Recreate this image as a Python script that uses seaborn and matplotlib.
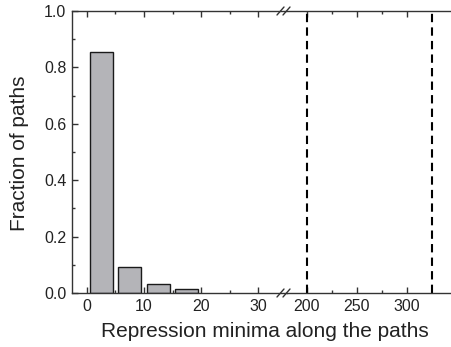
import matplotlib
matplotlib.use("Agg")
import matplotlib.pyplot as plt
import seaborn as sns
import pandas as pd

# data
bin_centers = [2.5, 7.5, 12.5, 17.5]
fractions = [0.854, 0.092, 0.032, 0.014]
dashed_positions = [200, 325]
left_ticks = [0, 10, 20, 30]
right_ticks = [200, 250, 300]
y_ticks = [0.0, 0.2, 0.4, 0.6, 0.8, 1.0]

sns.set_style("ticks")
plt.rcParams['font.family'] = ['Liberation Sans', 'DejaVu Sans']
plt.rcParams['xtick.direction'] = 'in'
plt.rcParams['ytick.direction'] = 'in'

fig = plt.figure(figsize=(4.51, 3.47), dpi=100)
W, H = 451, 347
x0, xb, x1 = 72, 287, 451
yb, yt = 293, 11
axL = fig.add_axes([x0 / W, 1 - yb / H, (xb - x0) / W, (yb - yt) / H])
axR = fig.add_axes([xb / W, 1 - yb / H, (x1 - xb) / W, (yb - yt) / H])

df = pd.DataFrame({"x": bin_centers, "y": fractions})
sns.barplot(data=df, x="x", y="y", native_scale=True, width=0.8,
            color="#b4b4b8", saturation=1, edgecolor="#1a1a1a", linewidth=1.0, ax=axL)

for xv in dashed_positions:
    axR.axvline(xv, color="black", linestyle=(0, (4, 2.5)), linewidth=1.5)

edge = "#333333"
for ax in (axL, axR):
    ax.set_ylim(0, 1.0)
    for s in ax.spines.values():
        s.set_color(edge)
        s.set_linewidth(1.0)
    ax.tick_params(axis='both', which='both', direction='in', colors=edge,
                   labelcolor='#222222', labelsize=11.5, top=True)
    ax.tick_params(which='major', length=4, width=1, pad=4)
    ax.tick_params(which='minor', length=2.5, width=1)
    ax.set_xlabel("")
    ax.set_ylabel("")

axL.set_xlim(-2.6, 35)
axL.set_xticks(left_ticks)
axL.set_xticks([5, 15, 25], minor=True)
axL.set_yticks(y_ticks)
axL.set_yticklabels([f"{v:.1f}" for v in y_ticks])
axL.set_yticks([0.1, 0.3, 0.5, 0.7, 0.9], minor=True)
axL.spines['right'].set_visible(False)
axL.tick_params(axis='y', which='both', right=False)

axR.set_xlim(180, 344)
axR.set_xticks(right_ticks)
axR.set_xticks([225, 275], minor=True)
axR.set_yticks([])
axR.spines['left'].set_visible(False)
axR.spines['right'].set_visible(False)

# break marks
for yy in (yb, yt):
    for dx in (0, 6):
        fig.add_artist(plt.Line2D([(277 + dx) / W, (284 + dx) / W],
                                  [(1 - yy / H) - 4 / H, (1 - yy / H) + 4 / H],
                                  color=edge, linewidth=1.0, transform=fig.transFigure))

fig.text(265 / W, 1 - 337 / H, "Repression minima along the paths",
         ha="center", va="baseline", fontsize=15, color="#222222")
fig.text(20 / W, 1 - 153 / H, "Fraction of paths", rotation=90,
         ha="center", va="center", fontsize=15, color="#222222")

fig.savefig("out.png", dpi=100)
